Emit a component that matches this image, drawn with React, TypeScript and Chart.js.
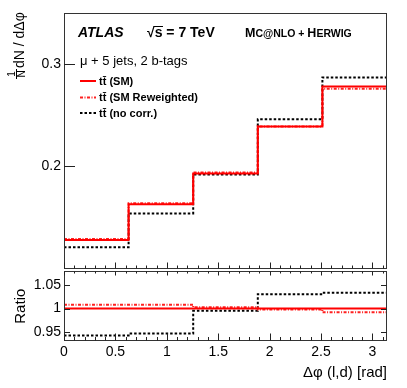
import React, { useEffect, useRef } from "react";
import { Chart, registerables } from "chart.js";

Chart.register(...registerables);

// ---------------- data ----------------
const binEdges = [0, 0.6283, 1.2566, 1.885, 2.5133, 3.1416];
const smValues = [0.128, 0.163, 0.193, 0.239, 0.278];
const smReweightedValues = [0.129, 0.164, 0.194, 0.239, 0.276];
const noCorrValues = [0.121, 0.154, 0.192, 0.246, 0.287];
const ratioSM = [1, 1, 1, 1, 1];
const ratioReweighted = [1.008, 1.008, 1.003, 0.998, 0.992];
const ratioNoCorr = [0.942, 0.946, 0.995, 1.031, 1.034];

const xTickValues = [0, 0.5, 1, 1.5, 2, 2.5, 3];
const upperYTickValues = [0.2, 0.3];
const ratioYTickValues = [0.95, 1, 1.05];
const xRange = [0, 3.1416];
const upperYRange = [0.1, 0.35];
const ratioYRange = [0.93, 1.08];

const legendLabels = ["tt\u0304 (SM)", "tt\u0304 (SM Reweighted)", "tt\u0304 (no corr.)"];
const channelLabel = "\u03BC + 5 jets, 2 b-tags";
const xTitle = "\u0394\u03C6 (l,d) [rad]";
const ratioTitle = "Ratio";

// ---------------- styles ----------------
const FONT = "'Liberation Sans', Arial, Helvetica, sans-serif";
const W = 407;
const AXIS_W = 64;
const RIGHT_PAD = 20;
const UPPER_H = 280;
const LOWER_TOP = 260;
const LOWER_H = 128;

const styles = [
  { color: "#ff0000", dash: [] as number[], width: 2 },
  { color: "#ff2020", dash: [3, 1.5, 1, 1.5], width: 2 },
  { color: "#000000", dash: [2.5, 2], width: 2 },
];

function stepPoints(vals: number[]) {
  const pts = vals.map((v, i) => ({ x: binEdges[i], y: v }));
  pts.push({ x: binEdges[vals.length], y: vals[vals.length - 1] });
  return pts;
}

function makeDatasets(series: number[][]) {
  return series.map((vals, i) => ({
    label: legendLabels[i],
    data: stepPoints(vals),
    stepped: true as const,
    borderColor: styles[i].color,
    borderDash: styles[i].dash,
    borderWidth: styles[i].width,
    pointRadius: 0,
    fill: false,
  }));
}

function drawXTicks(chart: any, y: number, dir: number, major: number, minor: number) {
  const ctx = chart.ctx;
  const xs = chart.scales.x;
  for (let k = 0; k <= 31; k++) {
    const v = k / 10;
    if (v > xRange[1]) break;
    const px = Math.round(xs.getPixelForValue(v)) + 0.5;
    const len = k % 5 === 0 ? major : minor;
    ctx.beginPath();
    ctx.moveTo(px, y);
    ctx.lineTo(px, y + dir * len);
    ctx.stroke();
  }
}

function drawFrame(chart: any) {
  const ctx = chart.ctx;
  const a = chart.chartArea;
  ctx.strokeStyle = "#333";
  ctx.lineWidth = 1;
  ctx.strokeRect(Math.round(a.left) + 0.5, Math.round(a.top) + 0.5, Math.round(a.right - a.left) - 1, Math.round(a.bottom - a.top) - 1);
}

const upperPlugin = {
  id: "upperDecor",
  afterDraw(chart: any) {
    const ctx = chart.ctx;
    const a = chart.chartArea;
    const ys = chart.scales.y;
    ctx.save();
    drawFrame(chart);
    ctx.strokeStyle = "#222";
    ctx.lineWidth = 1;
    drawXTicks(chart, Math.round(a.bottom) - 0.5, -1, 6, 3);
    upperYTickValues.forEach((v) => {
      const py = Math.round(ys.getPixelForValue(v)) + 0.5;
      ctx.beginPath();
      ctx.moveTo(a.left, py);
      ctx.lineTo(a.left + 11, py);
      ctx.stroke();
    });

    // header
    ctx.fillStyle = "#000";
    ctx.textBaseline = "alphabetic";
    ctx.textAlign = "left";
    ctx.font = `italic bold 14px ${FONT}`;
    ctx.fillText("ATLAS", 78, 37);
    ctx.font = `bold 14px ${FONT}`;
    const rootW = ctx.measureText("\u221A").width;
    ctx.fillText("\u221A", 147, 37);
    ctx.fillText("s = 7 TeV", 147 + rootW, 37);
    const sW = ctx.measureText("s").width;
    ctx.beginPath();
    ctx.lineWidth = 1;
    ctx.strokeStyle = "#000";
    ctx.moveTo(147 + rootW - 1, 26.5);
    ctx.lineTo(147 + rootW + sW + 0.5, 26.5);
    ctx.stroke();

    const segs: [string, number][] = [
      ["M", 12.5],
      ["C@NLO + ", 10.5],
      ["H", 12.5],
      ["ERWIG", 10.5],
    ];
    let x = 245;
    segs.forEach(([t, s]) => {
      ctx.font = `bold ${s}px ${FONT}`;
      ctx.fillText(t, x, 37);
      x += ctx.measureText(t).width;
    });

    ctx.font = `13px ${FONT}`;
    ctx.fillText(channelLabel, 80, 65);

    // legend
    const rows = [81, 97.5, 113];
    rows.forEach((ry, i) => {
      ctx.beginPath();
      ctx.strokeStyle = styles[i].color;
      ctx.lineWidth = styles[i].width;
      ctx.setLineDash(styles[i].dash);
      ctx.moveTo(80, ry);
      ctx.lineTo(96, ry);
      ctx.stroke();
      ctx.setLineDash([]);
      ctx.font = `bold 11px ${FONT}`;
      ctx.textBaseline = "middle";
      ctx.fillStyle = "#000";
      ctx.fillText(legendLabels[i], 99, ry + 0.5);
    });

    // y title: 1/N dN / dΔφ
    ctx.save();
    ctx.translate(25, 79);
    ctx.rotate(-Math.PI / 2);
    ctx.textBaseline = "alphabetic";
    ctx.fillStyle = "#000";
    ctx.font = `10px ${FONT}`;
    ctx.textAlign = "center";
    ctx.fillText("1", 5, -10);
    ctx.fillText("N", 5, 0);
    ctx.beginPath();
    ctx.strokeStyle = "#000";
    ctx.lineWidth = 1;
    ctx.moveTo(0, -8.5);
    ctx.lineTo(10, -8.5);
    ctx.stroke();
    ctx.textAlign = "left";
    ctx.font = `14px ${FONT}`;
    ctx.fillText("dN / d\u0394\u03C6", 11, -1);
    ctx.restore();

    ctx.restore();
  },
};

const lowerPlugin = {
  id: "lowerDecor",
  afterDraw(chart: any) {
    const ctx = chart.ctx;
    const a = chart.chartArea;
    const ys = chart.scales.y;
    ctx.save();
    drawFrame(chart);
    ctx.strokeStyle = "#222";
    ctx.lineWidth = 1;
    drawXTicks(chart, Math.round(a.top) + 0.5, 1, 4, 2);
    drawXTicks(chart, Math.round(a.bottom) - 0.5, -1, 7, 3.5);
    ratioYTickValues.forEach((v) => {
      const py = Math.round(ys.getPixelForValue(v)) + 0.5;
      ctx.beginPath();
      ctx.moveTo(a.left, py);
      ctx.lineTo(a.left + 6, py);
      ctx.moveTo(a.right, py);
      ctx.lineTo(a.right - 6, py);
      ctx.stroke();
    });

    ctx.fillStyle = "#000";
    ctx.font = `15px ${FONT}`;
    ctx.textBaseline = "alphabetic";
    ctx.textAlign = "right";
    ctx.fillText(xTitle, a.right, 117);

    ctx.save();
    ctx.translate(25, (a.top + a.bottom) / 2);
    ctx.rotate(-Math.PI / 2);
    ctx.textAlign = "center";
    ctx.fillText(ratioTitle, 0, 0);
    ctx.restore();

    ctx.restore();
  },
};

function fmt(v: number) {
  return String(v);
}

export default function App() {
  const upRef = useRef<HTMLCanvasElement>(null);
  const lowRef = useRef<HTMLCanvasElement>(null);

  useEffect(() => {
    const tickFont = { family: FONT, size: 14 };
    const upper = new Chart(upRef.current!, {
      type: "line",
      data: { datasets: makeDatasets([smValues, smReweightedValues, noCorrValues]) as any },
      options: {
        responsive: false,
        animation: false,
        events: [],
        layout: { padding: { top: 13, right: RIGHT_PAD, bottom: UPPER_H - 271, left: 0 } },
        plugins: { legend: { display: false }, tooltip: { enabled: false } },
        scales: {
          x: {
            type: "linear",
            min: xRange[0],
            max: xRange[1],
            display: false,
          },
          y: {
            type: "linear",
            min: upperYRange[0],
            max: upperYRange[1],
            grid: { display: false, drawTicks: false },
            border: { display: false },
            afterFit: (s: any) => {
              s.width = AXIS_W;
            },
            afterBuildTicks: (s: any) => {
              s.ticks = upperYTickValues.map((v) => ({ value: v }));
            },
            ticks: { padding: 3, color: "#000", font: tickFont, callback: (v: any) => fmt(Number(v)) },
          },
        },
      },
      plugins: [upperPlugin],
    });

    const lower = new Chart(lowRef.current!, {
      type: "line",
      data: { datasets: makeDatasets([ratioSM, ratioReweighted, ratioNoCorr]) as any },
      options: {
        responsive: false,
        animation: false,
        events: [],
        layout: { padding: { top: 271 - LOWER_TOP, right: RIGHT_PAD, bottom: 0, left: 0 } },
        plugins: { legend: { display: false }, tooltip: { enabled: false } },
        scales: {
          x: {
            type: "linear",
            min: xRange[0],
            max: xRange[1],
            grid: { display: false, drawTicks: false },
            border: { display: false },
            afterFit: (s: any) => {
              s.height = LOWER_TOP + LOWER_H - 341;
            },
            afterBuildTicks: (s: any) => {
              s.ticks = xTickValues.map((v) => ({ value: v }));
            },
            ticks: { padding: 3, color: "#000", font: tickFont, maxRotation: 0, autoSkip: false, callback: (v: any) => fmt(Number(v)) },
          },
          y: {
            type: "linear",
            min: ratioYRange[0],
            max: ratioYRange[1],
            grid: { display: false, drawTicks: false },
            border: { display: false },
            afterFit: (s: any) => {
              s.width = AXIS_W;
            },
            afterBuildTicks: (s: any) => {
              s.ticks = ratioYTickValues.map((v) => ({ value: v }));
            },
            ticks: { padding: 3, color: "#000", font: tickFont, callback: (v: any) => fmt(Number(v)) },
          },
        },
      },
      plugins: [lowerPlugin],
    });

    return () => {
      upper.destroy();
      lower.destroy();
    };
  }, []);

  return (
    <div style={{ position: "absolute", left: 0, top: 0, width: W, height: 388, background: "#fff" }}>
      <canvas ref={upRef} width={W} height={UPPER_H} style={{ position: "absolute", left: 0, top: 0 }} />
      <canvas ref={lowRef} width={W} height={LOWER_H} style={{ position: "absolute", left: 0, top: LOWER_TOP }} />
    </div>
  );
}
